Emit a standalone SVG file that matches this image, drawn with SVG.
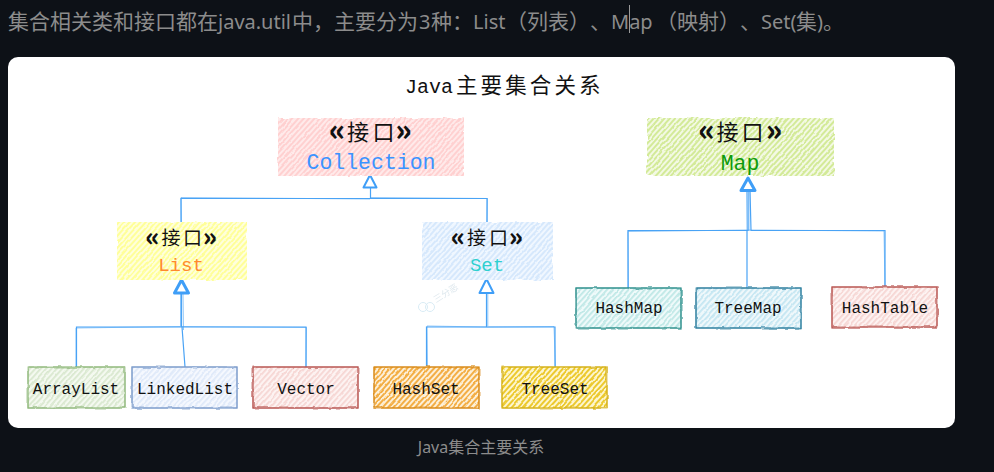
<svg xmlns="http://www.w3.org/2000/svg" width="994" height="472" viewBox="0 0 994 472">
<style>
.ui{font-family:"Noto Sans","Noto Sans CJK SC",sans-serif;fill:#8c8c8c}
.t{font-family:"Liberation Mono","Noto Sans CJK SC",monospace;fill:#111;text-anchor:middle}
.l{font-size:16px}
.h{font-size:21.5px}
.m{font-size:19px}
.k{font-family:"Noto Sans CJK SC",sans-serif;fill:#111;text-anchor:middle}
.k tspan{font-weight:900;font-size:135%}
.c{fill:none;stroke:#4aa3f5;stroke-width:1.2}
.d{fill:none;stroke:#4aa3f5;stroke-width:1;stroke-opacity:.6}
.a{fill:#fff;stroke:#3f9ef7;stroke-width:2;stroke-linejoin:round}
.a2{fill:#fff;stroke:#3f9ef7;stroke-width:3;stroke-linejoin:round}
.f{filter:url(#w)}
.b{stroke-width:1.2;fill:none;filter:url(#w)}
.b2{stroke-width:1;fill:none;stroke-opacity:.7;filter:url(#w2)}
</style>
<defs>
<filter id="w" x="-5%" y="-10%" width="110%" height="120%"><feTurbulence type="fractalNoise" baseFrequency=".09" numOctaves="2" seed="4"/><feDisplacementMap in="SourceGraphic" scale="3" xChannelSelector="R" yChannelSelector="G"/></filter>
<filter id="w2" x="-5%" y="-10%" width="110%" height="120%"><feTurbulence type="fractalNoise" baseFrequency=".05" numOctaves="2" seed="9"/><feDisplacementMap in="SourceGraphic" scale="3" xChannelSelector="G" yChannelSelector="R"/></filter>
<pattern id="hr" width="4" height="4" patternUnits="userSpaceOnUse" patternTransform="rotate(-48)"><rect width="4" height="4" fill="#ffeaea"/><rect width="4" height="2" fill="#ffd0d0"/></pattern>
<pattern id="hy" width="4" height="4" patternUnits="userSpaceOnUse" patternTransform="rotate(-48)"><rect width="4" height="4" fill="#ffffdc"/><rect width="4" height="2" fill="#ffff99"/></pattern>
<pattern id="hb" width="4" height="4" patternUnits="userSpaceOnUse" patternTransform="rotate(-48)"><rect width="4" height="4" fill="#f0f7ff"/><rect width="4" height="2" fill="#d6e8fc"/></pattern>
<pattern id="hg" width="4" height="4" patternUnits="userSpaceOnUse" patternTransform="rotate(-48)"><rect width="4" height="4" fill="#f3f9e4"/><rect width="4" height="2" fill="#d3ea98"/></pattern>
<pattern id="s1" width="4" height="4" patternUnits="userSpaceOnUse" patternTransform="rotate(-48)"><rect width="4" height="4" fill="#f4f9f0"/><rect width="4" height="1.8" fill="#d9e8cf"/></pattern>
<pattern id="s2" width="4" height="4" patternUnits="userSpaceOnUse" patternTransform="rotate(-48)"><rect width="4" height="4" fill="#f5f8fe"/><rect width="4" height="1.8" fill="#dfe9f9"/></pattern>
<pattern id="s3" width="4" height="4" patternUnits="userSpaceOnUse" patternTransform="rotate(-48)"><rect width="4" height="4" fill="#fdf3f2"/><rect width="4" height="1.8" fill="#f6d6d3"/></pattern>
<pattern id="s4" width="4" height="4" patternUnits="userSpaceOnUse" patternTransform="rotate(-48)"><rect width="4" height="4" fill="#fdf0d8"/><rect width="4" height="2" fill="#f3ae45"/></pattern>
<pattern id="s5" width="4" height="4" patternUnits="userSpaceOnUse" patternTransform="rotate(-48)"><rect width="4" height="4" fill="#fdf6cf"/><rect width="4" height="2" fill="#ecc92e"/></pattern>
<pattern id="s6" width="4" height="4" patternUnits="userSpaceOnUse" patternTransform="rotate(-48)"><rect width="4" height="4" fill="#effafa"/><rect width="4" height="1.8" fill="#bfe8e6"/></pattern>
<pattern id="s7" width="4" height="4" patternUnits="userSpaceOnUse" patternTransform="rotate(-48)"><rect width="4" height="4" fill="#eff8fb"/><rect width="4" height="1.8" fill="#c4e6f2"/></pattern>
</defs>
<rect width="994" height="472" fill="#0d1117"/>
<text class="ui" y="29" font-size="21"><tspan x="8">集合相关类和接口都在</tspan><tspan x="218" font-size="20">java.util</tspan><tspan x="292">中，</tspan><tspan x="334">主要分为</tspan><tspan x="419" font-size="20">3</tspan><tspan x="431">种：</tspan><tspan x="473" font-size="20">List</tspan><tspan x="506">（列表）</tspan><tspan x="590">、</tspan><tspan x="611" font-size="20">Map</tspan><tspan x="656">（映射）</tspan><tspan x="740">、</tspan><tspan x="761" font-size="20">Set(</tspan><tspan x="796">集</tspan><tspan x="817" font-size="20">)</tspan><tspan x="823">。</tspan></text>
<rect x="629" y="5" width="1" height="28" fill="#9a9a9a"/>
<rect x="8" y="57" width="947" height="371" rx="10" fill="#fff"/>
<text class="ui" x="481" y="453" font-size="16" text-anchor="middle">Java集合主要关系</text>
<text y="93" font-size="20" font-family="Liberation Mono,monospace" fill="#111" x="405">Java<tspan font-family="Noto Sans CJK SC,sans-serif" font-size="21.500" x="456 480.600 505.200 529.800 554.400 579">主要集合关系</tspan></text>

<g id="watermark" opacity=".9"><circle cx="423" cy="307" r="4.500" fill="none" stroke="#d4e9f3"/><circle cx="430" cy="307" r="4.500" fill="none" stroke="#d4e9f3"/><text x="436" y="303" font-size="9" fill="#dbe6ec" font-family="Noto Sans CJK SC,sans-serif" transform="rotate(-32 436 303)">三分恶</text></g>

<g id="connectors">
<path class="c" d="M181 222V198.500H370.500V186M370.500 198.500H487V222"/>
<path class="d" d="M181.500 222L181 197.500L370 199M371 197.500L487.500 198.500L487 222"/>
<path class="c" d="M76.500 367V327H181.500V292M182 327L185 367M181.500 327H306V367"/>
<path class="d" d="M76 367L76 328L182 326.500L306.500 327.500L306 367M183 292L183.500 330M180.500 292V326"/>
<path class="c" d="M426.500 367V327H486.500V292M487 327H555V367"/>
<path class="d" d="M427.500 367L427 326L486 327L554 326.500L555.500 367M487.800 292V326"/>
<path class="c" d="M628 288V230.500H748V190M750 190L751 230.500H885V288M747 230.500V288"/>
<path class="d" d="M628.500 288L628 231.500L747 230L884 231L885 288M749 190L749 231M746.500 190L747 230"/>
<path class="a" d="M370 175L376.500 187.500H363.500Z"/>
<path class="a2" d="M181.500 280L188.500 293H174.500Z"/>
<path class="a" d="M486.500 279L493.500 293H479.500Z"/>
<path class="a2" d="M748 178L755 190.500H741Z"/>
</g>

<g id="collection"><rect class="f" x="278" y="118" width="186" height="58" fill="url(#hr)"/><text class="k" font-size="22" y="141 140 140 141" x="337 358 383.500 403.500"><tspan>«</tspan>接口<tspan>»</tspan></text><text class="t h" x="371" y="169" style="fill:#3b93ff">Collection</text></g>
<g id="map"><rect class="f" x="647" y="118" width="187" height="58" fill="url(#hg)"/><text class="k" font-size="22" y="141 140 140 141" x="706.500 727.500 752.500 774"><tspan>«</tspan>接口<tspan>»</tspan></text><text class="t h" x="740" y="170" style="fill:#0c9a0c">Map</text></g>
<g id="list"><rect class="f" x="117" y="222" width="130" height="58" fill="url(#hy)"/><text class="k" font-size="19" y="246 245 245 246" x="152.500 171 192.500 210"><tspan>«</tspan>接口<tspan>»</tspan></text><text class="t m" x="181" y="271" style="fill:#ff8a2e">List</text></g>
<g id="set"><rect class="f" x="422" y="222" width="131" height="58" fill="url(#hb)"/><text class="k" font-size="19" y="246 245 245 246" x="458 476.500 498.500 516"><tspan>«</tspan>接口<tspan>»</tspan></text><text class="t m" x="487" y="271" style="fill:#2fd0d0">Set</text></g>

<g id="arraylist"><rect class="f" x="28" y="367" width="97" height="41" fill="url(#s1)"/><rect class="b" x="28" y="367" width="97" height="41" stroke="#8fb87a"/><rect class="b2" x="28" y="367" width="97" height="41" stroke="#8fb87a"/><text class="t l" x="76" y="394">ArrayList</text></g>
<g id="linkedlist"><rect class="f" x="132" y="367" width="105" height="41" fill="url(#s2)"/><rect class="b" x="132" y="367" width="105" height="41" stroke="#7c9bcb"/><rect class="b2" x="132" y="367" width="105" height="41" stroke="#7c9bcb"/><text class="t l" x="185" y="394">LinkedList</text></g>
<g id="vector"><rect class="f" x="253" y="367" width="105" height="41" fill="url(#s3)"/><rect class="b" x="253" y="367" width="105" height="41" stroke="#b85450"/><rect class="b2" x="253" y="367" width="105" height="41" stroke="#b85450"/><text class="t l" x="306" y="394">Vector</text></g>
<g id="hashset"><rect class="f" x="374" y="367" width="105" height="41" fill="url(#s4)"/><rect class="b" x="374" y="367" width="105" height="41" stroke="#d98a12"/><rect class="b2" x="374" y="367" width="105" height="41" stroke="#d98a12"/><text class="t l" x="426" y="394">HashSet</text></g>
<g id="treeset"><rect class="f" x="502" y="367" width="105" height="41" fill="url(#s5)"/><rect class="b" x="502" y="367" width="105" height="41" stroke="#d4b012"/><rect class="b2" x="502" y="367" width="105" height="41" stroke="#d4b012"/><text class="t l" x="555" y="394">TreeSet</text></g>
<g id="hashmap"><rect class="f" x="576" y="288" width="105" height="40" fill="url(#s6)"/><rect class="b" x="576" y="288" width="105" height="40" stroke="#2e8f8c"/><rect class="b2" x="576" y="288" width="105" height="40" stroke="#2e8f8c"/><text class="t l" x="629" y="313">HashMap</text></g>
<g id="treemap"><rect class="f" x="696" y="288" width="105" height="40" fill="url(#s7)"/><rect class="b" x="696" y="288" width="105" height="40" stroke="#2d7f9e"/><rect class="b2" x="696" y="288" width="105" height="40" stroke="#2d7f9e"/><text class="t l" x="748" y="313">TreeMap</text></g>
<g id="hashtable"><rect class="f" x="832" y="287" width="105" height="40" fill="url(#s3)"/><rect class="b" x="832" y="287" width="105" height="40" stroke="#b85450"/><rect class="b2" x="832" y="287" width="105" height="40" stroke="#b85450"/><text class="t l" x="885" y="313">HashTable</text></g>
</svg>
